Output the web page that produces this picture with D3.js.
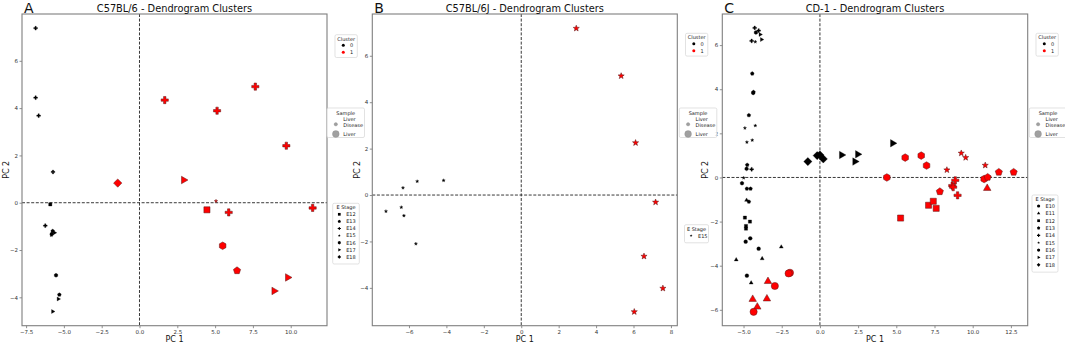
<!DOCTYPE html>
<html>
<head>
<meta charset="utf-8">
<script src="https://cdn.jsdelivr.net/npm/d3@7"></script>
<style>
  body { margin: 0; background: #fff; }
  text { font-family: "DejaVu Sans", sans-serif; }
</style>
</head>
<body>
<div id="chart"></div>
<script>
// rows: [PC1, PC2, E stage, cluster, sample]
var LD = "Liver Disease", LV = "Liver";

var pointsA = [
  [-6.87, 7.38, "E14", 0, LD], [-6.87, 4.44, "E14", 0, LD], [-6.67, 3.68, "E14", 0, LD],
  [-5.72, 1.30, "E14", 0, LD], [-5.90, -0.07, "E12", 0, LD], [-6.23, -0.97, "E14", 0, LD],
  [-5.74, -1.20, "E13", 0, LD], [-5.62, -1.27, "E17", 0, LD], [-5.80, -1.32, "E16", 0, LD],
  [-5.83, -1.38, "E15", 0, LD], [-5.52, -3.07, "E16", 0, LD], [-5.30, -3.89, "E13", 0, LD],
  [-5.37, -4.07, "E17", 0, LD], [-5.74, -4.60, "E17", 0, LD],
  [1.67, 4.34, "E14", 1, LV], [5.13, 3.89, "E14", 1, LV], [7.66, 4.91, "E14", 1, LV],
  [9.71, 2.41, "E14", 1, LV], [-1.44, 0.83, "E18", 1, LV], [2.92, 0.96, "E17", 1, LV],
  [5.06, 0.07, "E15", 1, LD], [4.46, -0.30, "E12", 1, LV], [5.90, -0.41, "E14", 1, LV],
  [11.45, -0.22, "E14", 1, LV], [5.50, -1.82, "E16", 1, LV], [6.45, -2.87, "E13", 1, LV],
  [9.80, -3.16, "E17", 1, LV], [8.90, -3.73, "E17", 1, LV]
];

var pointsB = [
  [-4.15, 0.63, "E15", 0, LD], [-5.56, 0.59, "E15", 0, LD], [-6.32, 0.31, "E15", 0, LD],
  [-7.23, -0.70, "E15", 0, LD], [-6.41, -0.53, "E15", 0, LD], [-6.27, -0.89, "E15", 0, LD],
  [-5.63, -2.10, "E15", 0, LD],
  [2.94, 7.18, "E15", 1, LV], [5.34, 5.13, "E15", 1, LV], [6.11, 2.25, "E15", 1, LV],
  [7.18, -0.31, "E15", 1, LV], [6.56, -2.64, "E15", 1, LV], [7.57, -4.02, "E15", 1, LV],
  [6.04, -5.03, "E15", 1, LV]
];

var pointsC = [
  [-4.27, 6.78, "E14", 0, LD], [-4.01, 6.66, "E14", 0, LD], [-4.19, 6.57, "E16", 0, LD],
  [-3.91, 6.48, "E17", 0, LD], [-3.82, 6.25, "E17", 0, LD], [-4.47, 6.19, "E14", 0, LD],
  [-4.23, 6.15, "E15", 0, LD], [-4.43, 4.71, "E13", 0, LD], [-4.37, 3.83, "E16", 0, LD],
  [-4.35, 3.87, "E13", 0, LD], [-4.65, 2.82, "E13", 0, LD], [-4.23, 2.35, "E15", 0, LD],
  [-4.91, 2.24, "E15", 0, LD], [-4.43, 1.69, "E15", 0, LD], [-4.78, 1.60, "E15", 0, LD],
  [-4.76, 0.57, "E13", 0, LD], [-4.80, 0.39, "E16", 0, LD], [-4.47, 0.37, "E14", 0, LD],
  [-4.99, -0.02, "E15", 0, LD], [-5.10, -0.26, "E16", 0, LD], [-4.78, -0.51, "E13", 0, LD],
  [-4.54, -0.51, "E13", 0, LD], [-4.80, -1.03, "E11", 0, LD], [-4.65, -1.10, "E13", 0, LD],
  [-4.91, -1.82, "E12", 0, LD], [-4.58, -2.00, "E12", 0, LD], [-4.84, -2.20, "E12", 0, LD],
  [-4.84, -2.32, "E12", 0, LD], [-4.56, -2.76, "E10", 0, LD], [-4.86, -2.91, "E10", 0, LD],
  [-4.01, -3.23, "E10", 0, LD], [-2.53, -3.15, "E11", 0, LD], [-3.78, -3.68, "E11", 0, LD],
  [-5.48, -3.73, "E11", 0, LD], [-4.78, -4.45, "E10", 0, LD], [-4.50, -4.78, "E11", 0, LD],
  [-0.79, 0.72, "E18", 0, LV], [-0.18, 0.99, "E18", 0, LV], [0.00, 1.02, "E18", 0, LV],
  [0.22, 0.84, "E18", 0, LV], [1.42, 1.02, "E17", 0, LV], [2.47, 1.05, "E17", 0, LV],
  [2.29, 0.72, "E17", 0, LV], [4.76, 1.55, "E17", 0, LV],
  [5.58, 0.90, "E16", 1, LV], [6.63, 0.99, "E16", 1, LV], [6.98, 0.54, "E16", 1, LV],
  [8.31, 0.34, "E15", 1, LV], [9.25, 1.10, "E15", 1, LV], [9.54, 0.90, "E15", 1, LV],
  [10.82, 0.55, "E15", 1, LV], [11.71, 0.24, "E13", 1, LV], [12.68, 0.24, "E13", 1, LV],
  [4.38, 0.00, "E16", 1, LV], [8.86, -0.13, "E14", 1, LV], [10.75, -0.07, "E16", 1, LV],
  [10.98, 0.01, "E13", 1, LV], [10.95, -0.49, "E11", 1, LV], [8.66, -0.37, "E14", 1, LV],
  [8.72, -0.44, "E14", 1, LV], [7.85, -0.64, "E13", 1, LV], [9.01, -0.81, "E14", 1, LV],
  [7.11, -1.26, "E12", 1, LV], [7.42, -1.08, "E12", 1, LV], [7.61, -1.40, "E12", 1, LV],
  [5.28, -1.84, "E12", 1, LV], [-1.96, -4.32, "E10", 1, LV], [-2.05, -4.35, "E10", 1, LV],
  [-2.95, -4.92, "E10", 1, LV], [-3.40, -4.71, "E11", 1, LV], [-4.40, -5.52, "E11", 1, LV],
  [-3.47, -5.50, "E11", 1, LV], [-4.10, -5.87, "E11", 1, LV], [-4.34, -6.09, "E10", 1, LV]
];

var stagesA = ["E12", "E13", "E14", "E15", "E16", "E17", "E18"];
var stagesB = ["E15"];
var stagesC = ["E10", "E11", "E12", "E13", "E14", "E15", "E16", "E17", "E18"];

var ticksXA = [-7.5, -5, -2.5, 0, 2.5, 5, 7.5, 10];
var ticksXB = [-6, -4, -2, 0, 2, 4, 6, 8];
var ticksXC = [-5, -2.5, 0, 2.5, 5, 7.5, 10, 12.5];
var ticksYA = [-4, -2, 0, 2, 4, 6];
var ticksYB = [-4, -2, 0, 2, 4, 6];
var ticksYC = [-6, -4, -2, 0, 2, 4, 6];

var clusterLabels = ["0", "1"];
var sampleLabels = [LD, LV];

var W = 1065, H = 344;
var svg = d3.select("#chart").append("svg")
  .attr("width", W).attr("height", H);

var clusterColor = d3.scaleOrdinal().domain([0, 1]).range(["#000000", "#ff0000"]);

// marker shapes, matplotlib-ish
function ptsToPath(pts) {
  return "M" + pts.map(function(p) { return p[0].toFixed(2) + "," + p[1].toFixed(2); }).join("L") + "Z";
}
function poly(n, r, rotDeg) {
  var pts = [];
  for (var i = 0; i < n; i++) {
    var a = (rotDeg + i * 360 / n) * Math.PI / 180;
    pts.push([r * Math.cos(a), r * Math.sin(a)]);
  }
  return ptsToPath(pts);
}
function star(ro, ri) {
  var pts = [];
  for (var i = 0; i < 10; i++) {
    var r = i % 2 ? ri : ro;
    var a = (-90 + i * 36) * Math.PI / 180;
    pts.push([r * Math.cos(a), r * Math.sin(a)]);
  }
  return ptsToPath(pts);
}
function plus(r) {
  var t = r / 3;
  return ptsToPath([[-t, -r], [t, -r], [t, -t], [r, -t], [r, t], [t, t], [t, r], [-t, r], [-t, t], [-r, t], [-r, -t], [-t, -t]]);
}
function markerPath(stage, R) {
  switch (stage) {
    case "E10": return d3.symbol(d3.symbolCircle, Math.PI * R * R)();
    case "E11": return poly(3, R * 1.2, -90);
    case "E12": return poly(4, R * 1.2, 45);
    case "E13": return poly(5, R * 1.05, -90);
    case "E14": return plus(R * 1.0);
    case "E15": return star(R * 0.9, R * 0.38);
    case "E16": return poly(6, R * 1.05, -90);
    case "E17": return poly(3, R * 1.2, 0);
    case "E18": return poly(4, R * 1.15, 0);
  }
}
function sizeOf(sample) { return sample === LV ? 3.6 : 1.9; }

var panels = [
  { letter: "A", title: "C57BL/6 - Dendrogram Clusters", data: pointsA, stages: stagesA,
    x0: 22, x1: 327, xDom: [-7.77, 12.4], xTicks: ticksXA, xFmt: d3.format(".1f"),
    yDom: [-5.2, 7.98], yTicks: ticksYA, labelX: 9,
    legCluster: [335, 34.7], legSample: [327, 108], legStage: [332.7, 203.3, 26.6, 7.1] },
  { letter: "B", title: "C57BL/6J - Dendrogram Clusters", data: pointsB, stages: stagesB,
    x0: 372.3, x1: 677.3, xDom: [-7.96, 8.34], xTicks: ticksXB, xFmt: d3.format("d"),
    yDom: [-5.63, 7.8], yTicks: ticksYB, labelX: 359.5,
    legCluster: [685.5, 33.3], legSample: [679.3, 108], legStage: [684.5, 224.7, 24, 7.1] },
  { letter: "C", title: "CD-1 - Dendrogram Clusters", data: pointsC, stages: stagesC,
    x0: 722.3, x1: 1027.7, xDom: [-6.39, 13.6], xTicks: ticksXC, xFmt: d3.format(".1f"),
    yDom: [-6.72, 7.41], yTicks: ticksYC, labelX: 707.5,
    legCluster: [1036, 33.3], legSample: [1029.3, 108], legStage: [1032, 195, 26, 7.35] }
];

var plotTop = 14, plotBottom = 325.7;

panels.forEach(function(p) {
  var x = d3.scaleLinear().domain(p.xDom).range([p.x0, p.x1]);
  var y = d3.scaleLinear().domain(p.yDom).range([plotBottom, plotTop]);
  var g = svg.append("g");

  // axes
  var xAxis = d3.axisBottom(x).tickValues(p.xTicks).tickFormat(p.xFmt).tickSize(2.5).tickPadding(1.5);
  var yAxis = d3.axisLeft(y).tickValues(p.yTicks).tickFormat(d3.format("d")).tickSize(2.5).tickPadding(1.5);
  g.append("g").attr("transform", "translate(0," + plotBottom + ")").call(xAxis);
  g.append("g").attr("transform", "translate(" + p.x0 + ",0)").call(yAxis);
  g.selectAll(".domain").remove();
  g.selectAll(".tick line").attr("stroke", "#444").attr("stroke-width", 0.6);
  g.selectAll(".tick text").attr("font-size", 5.5).attr("fill", "#333")
    .style("font-family", "DejaVu Sans, sans-serif");

  // zero lines
  g.append("line").attr("x1", x(0)).attr("x2", x(0)).attr("y1", plotTop).attr("y2", plotBottom)
    .attr("stroke", "#222").attr("stroke-width", 0.9).attr("stroke-dasharray", "3,1.6");
  g.append("line").attr("x1", p.x0).attr("x2", p.x1).attr("y1", y(0)).attr("y2", y(0))
    .attr("stroke", "#222").attr("stroke-width", 0.9).attr("stroke-dasharray", "3,1.6");

  // points
  g.selectAll(".pt").data(p.data).enter().append("path")
    .attr("class", "pt")
    .attr("transform", function(d) { return "translate(" + x(d[0]) + "," + y(d[1]) + ")"; })
    .attr("d", function(d) { return markerPath(d[2], sizeOf(d[4])); })
    .attr("fill", function(d) { return clusterColor(d[3]); })
    .attr("stroke", function(d) { return d[3] ? "#5a1a1a" : "#000"; })
    .attr("stroke-width", function(d) { return d[3] ? 0.5 : 0.3; });

  // frame
  g.append("rect").attr("x", p.x0).attr("y", plotTop)
    .attr("width", p.x1 - p.x0).attr("height", plotBottom - plotTop)
    .attr("fill", "none").attr("stroke", "#7f7f7f").attr("stroke-width", 1.1);

  // titles
  g.append("text").attr("x", (p.x0 + p.x1) / 2).attr("y", 11.5)
    .attr("text-anchor", "middle").attr("font-size", 9.8).attr("fill", "#111").text(p.title);
  g.append("text").attr("x", p.x0 + 2).attr("y", 12.5)
    .attr("font-size", 14).attr("fill", "#111").text(p.letter);
  g.append("text").attr("x", (p.x0 + p.x1) / 2).attr("y", 341.5)
    .attr("text-anchor", "middle").attr("font-size", 8).attr("fill", "#111").text("PC 1");
  g.append("text").attr("transform", "translate(" + p.labelX + "," + ((plotTop + plotBottom) / 2) + ") rotate(-90)")
    .attr("text-anchor", "middle").attr("font-size", 8).attr("fill", "#111").text("PC 2");
});

// legends on top
function legendBox(x0, y0, w, h) {
  var lg = svg.append("g");
  lg.append("rect").attr("x", x0).attr("y", y0).attr("width", w).attr("height", h)
    .attr("rx", 1.5).attr("fill", "#fff").attr("fill-opacity", 0.85)
    .attr("stroke", "#d6d6d6").attr("stroke-width", 0.7);
  return lg;
}
var fs = 5;
panels.forEach(function(p) {
  // Cluster
  var c = p.legCluster;
  var lc = legendBox(c[0], c[1], 22.3, 22.8);
  lc.append("text").attr("x", c[0] + 11.15).attr("y", c[1] + 5.8).attr("text-anchor", "middle")
    .attr("font-size", fs).attr("fill", "#222").text("Cluster");
  clusterLabels.forEach(function(l, i) {
    var yy = c[1] + 10.5 + i * 7;
    lc.append("circle").attr("cx", c[0] + 8.3).attr("cy", yy).attr("r", 1.5)
      .attr("fill", clusterColor(i));
    lc.append("text").attr("x", c[0] + 15).attr("y", yy + 1.8)
      .attr("font-size", fs).attr("fill", "#222").text(l);
  });

  // Sample
  var s = p.legSample;
  var ls = legendBox(s[0], s[1], 37.5, 29.5);
  ls.append("text").attr("x", s[0] + 18.7).attr("y", s[1] + 6.8).attr("text-anchor", "middle")
    .attr("font-size", fs).attr("fill", "#222").text("Sample");
  ls.append("circle").attr("cx", s[0] + 8.8).attr("cy", s[1] + 16.3).attr("r", 1.7)
    .attr("fill", "#a0a0a0").attr("stroke", "#888").attr("stroke-width", 0.3);
  ls.append("text").attr("x", s[0] + 16.3).attr("y", s[1] + 12.6)
    .attr("font-size", fs).attr("fill", "#222").text(sampleLabels[0].split(" ")[0]);
  ls.append("text").attr("x", s[0] + 16.3).attr("y", s[1] + 19.2)
    .attr("font-size", fs).attr("fill", "#222").text(sampleLabels[0].split(" ")[1]);
  ls.append("circle").attr("cx", s[0] + 8.8).attr("cy", s[1] + 26).attr("r", 3.4)
    .attr("fill", "#a0a0a0").attr("stroke", "#888").attr("stroke-width", 0.3);
  ls.append("text").attr("x", s[0] + 16.3).attr("y", s[1] + 27.8)
    .attr("font-size", fs).attr("fill", "#222").text(sampleLabels[1]);

  // E Stage
  var e = p.legStage;
  var hh = 11 + p.stages.length * e[3];
  var le = legendBox(e[0], e[1], e[2], hh);
  le.append("text").attr("x", e[0] + e[2] / 2).attr("y", e[1] + 5.8).attr("text-anchor", "middle")
    .attr("font-size", fs).attr("fill", "#222").text("E Stage");
  p.stages.forEach(function(st, i) {
    var yy = e[1] + 11 + i * e[3];
    le.append("path").attr("transform", "translate(" + (e[0] + 6.6) + "," + yy + ")")
      .attr("d", markerPath(st, 1.6)).attr("fill", "#000");
    le.append("text").attr("x", e[0] + 13.5).attr("y", yy + 1.8)
      .attr("font-size", fs).attr("fill", "#222").text(st);
  });
});
</script>
</body>
</html>
